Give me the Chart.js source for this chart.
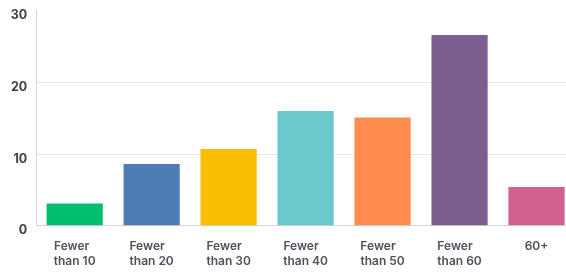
<!DOCTYPE html>
<html>
<head>
<meta charset="utf-8">
<script src="https://cdn.jsdelivr.net/npm/chart.js@4/dist/chart.umd.min.js"></script>
<style>
  html, body { margin: 0; padding: 0; background: #ffffff; overflow: hidden; }
  #wrap { position: relative; width: 575px; height: 273px; }
</style>
</head>
<body>
<div id="wrap"><canvas id="c"></canvas></div>
<script>
const categories = [
  ["Fewer", "than 10"],
  ["Fewer", "than 20"],
  ["Fewer", "than 30"],
  ["Fewer", "than 40"],
  ["Fewer", "than 50"],
  ["Fewer", "than 60"],
  "60+"
];
const values = [3.1, 8.6, 10.7, 16.0, 15.1, 26.6, 5.4];
const barColors = ["#00BF6F", "#507CB6", "#F9BE00", "#6BC8CD", "#FF8B4F", "#7D5E90", "#D25F90"];
const yTicks = [0, 10, 20, 30];

const FONT = "Inter, 'DejaVu Sans', sans-serif";
const X_FONT = { family: FONT, size: 12, weight: '600', lineHeight: 1.25 };

// left-align the two lines of a wrapped label by padding the shorter first line
const measureCtx = document.createElement('canvas').getContext('2d');
measureCtx.font = "600 12px " + FONT;
function padLines(lines) {
  const w0 = measureCtx.measureText(lines[0]).width;
  const w1 = measureCtx.measureText(lines[1]).width;
  const sp = measureCtx.measureText(' ').width;
  const n = Math.max(0, Math.round((w1 - w0) / sp));
  return [lines[0] + ' '.repeat(n), lines[1]];
}

new Chart(document.getElementById('c'), {
  type: 'bar',
  data: {
    labels: categories,
    datasets: [{
      data: values,
      backgroundColor: barColors,
      borderWidth: 0,
      categoryPercentage: 1.0,
      barPercentage: 0.73
    }]
  },
  options: {
    responsive: true,
    maintainAspectRatio: false,
    animation: false,
    devicePixelRatio: 1,
    layout: { padding: { left: 0, top: 10.6, right: 0, bottom: 0 } },
    plugins: { legend: { display: false }, tooltip: { enabled: false } },
    scales: {
      x: {
        grid: { display: false, drawTicks: false },
        border: { display: true, color: '#d4d4d4', width: 1 },
        afterFit: (s) => { s.height = 47.3; },
        ticks: {
          color: '#4d525c',
          font: X_FONT,
          padding: 13,
          maxRotation: 0,
          autoSkip: false,
          callback: function (v, i) {
            const l = categories[i];
            return Array.isArray(l) ? padLines(l) : l;
          }
        }
      },
      y: {
        min: 0,
        max: 30,
        afterBuildTicks: (axis) => { axis.ticks = yTicks.map(v => ({ value: v })); },
        afterFit: (s) => { s.width = 36.2; s.paddingTop = 0; s.paddingBottom = 0; },
        grid: {
          drawTicks: false,
          color: (ctx) => (ctx.tick && (ctx.tick.value === 30 || ctx.tick.value === 0)) ? 'rgba(0,0,0,0)' : '#e8e8e8',
          lineWidth: 1
        },
        border: { display: true, color: '#d4d4d4', width: 1 },
        ticks: {
          color: '#3d414b',
          font: { family: FONT, size: 12.5, weight: '700' },
          padding: 9,
          labelOffset: 5
        }
      }
    }
  }
});
</script>
</body>
</html>
